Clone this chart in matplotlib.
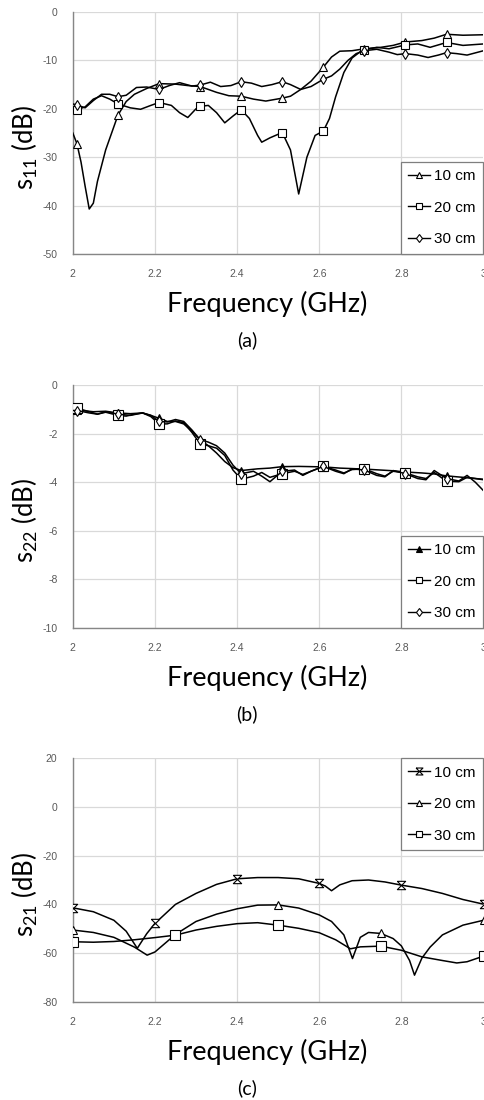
import numpy as np
import matplotlib
matplotlib.use("Agg")
import matplotlib.pyplot as plt
from matplotlib.lines import Line2D

plt.rcParams["axes.unicode_minus"] = False

# ---------------- (a) S11 ----------------
s11_10_f = [2.00, 2.01, 2.02, 2.03, 2.04, 2.05, 2.06, 2.08, 2.11, 2.13, 2.15, 2.18, 2.21,
            2.25, 2.28, 2.31, 2.35, 2.38, 2.41, 2.44, 2.47, 2.51, 2.53, 2.555, 2.58, 2.61,
            2.63, 2.65, 2.68, 2.71, 2.75, 2.78, 2.81, 2.85, 2.88, 2.91, 2.95, 3.00]
s11_10_db = [-25.0, -27.2, -31.0, -36.0, -40.7, -39.5, -35.0, -28.5, -21.3, -18.5, -17.0, -15.8, -14.8,
             -14.9, -15.2, -15.4, -16.6, -17.3, -17.4, -18.0, -18.4, -17.8, -17.4, -16.0, -14.3, -11.4,
             -9.3, -8.1, -8.0, -7.6, -7.3, -6.9, -6.2, -5.9, -5.4, -4.6, -4.8, -4.7]

s11_20_f = [2.00, 2.01, 2.03, 2.05, 2.07, 2.09, 2.11, 2.14, 2.165, 2.19, 2.21, 2.24, 2.26, 2.28,
            2.30, 2.31, 2.33, 2.35, 2.37, 2.39, 2.41, 2.43, 2.45, 2.46, 2.48, 2.51, 2.53, 2.55,
            2.57, 2.59, 2.61, 2.625, 2.64, 2.66, 2.68, 2.70, 2.71, 2.74, 2.77, 2.81, 2.84, 2.87,
            2.91, 2.95, 3.00]
s11_20_db = [-19.6, -20.2, -19.6, -18.0, -17.3, -18.0, -19.0, -19.8, -20.1, -19.3, -18.7, -19.3, -20.8, -21.8,
             -20.0, -19.5, -19.3, -20.8, -22.9, -21.5, -20.2, -22.0, -25.5, -26.9, -26.0, -24.9, -28.5, -37.6,
             -30.0, -25.5, -24.6, -22.0, -17.5, -12.5, -9.5, -8.2, -7.8, -7.3, -7.6, -6.8, -6.6, -7.3,
             -6.3, -6.9, -6.6]

s11_30_f = [2.00, 2.01, 2.03, 2.05, 2.07, 2.09, 2.11, 2.13, 2.155, 2.18, 2.21, 2.235, 2.26, 2.29,
            2.31, 2.335, 2.36, 2.385, 2.41, 2.435, 2.46, 2.485, 2.51, 2.53, 2.555, 2.58, 2.61,
            2.63, 2.65, 2.67, 2.69, 2.71, 2.74, 2.77, 2.79, 2.81, 2.84, 2.865, 2.89, 2.91, 2.935,
            2.96, 3.00]
s11_30_db = [-19.0, -19.2, -19.8, -18.3, -17.0, -17.0, -17.5, -17.2, -15.6, -15.5, -16.0, -15.2, -14.6, -15.3,
             -15.1, -14.5, -15.4, -15.2, -14.4, -14.7, -15.4, -15.0, -14.4, -15.0, -16.0, -15.4, -13.9,
             -13.2, -11.8, -10.0, -8.6, -8.0, -7.7, -8.3, -8.8, -8.6, -8.9, -9.4, -8.9, -8.4, -8.6,
             -8.9, -8.0]

s11_marks = [2.01, 2.11, 2.21, 2.31, 2.41, 2.51, 2.61, 2.71, 2.81, 2.91]

# ---------------- (b) S22 ----------------
s22_10_f = [2.00, 2.01, 2.05, 2.08, 2.11, 2.14, 2.17, 2.19, 2.21, 2.23, 2.25, 2.27, 2.29, 2.31,
            2.33, 2.35, 2.37, 2.39, 2.41, 2.45, 2.48, 2.51, 2.55, 2.58, 2.61, 2.65, 2.68, 2.71,
            2.75, 2.78, 2.81, 2.85, 2.88, 2.91, 2.95, 3.00]
s22_10_db = [-1.05, -1.03, -1.10, -1.08, -1.15, -1.18, -1.15, -1.25, -1.37, -1.50, -1.50, -1.60, -1.90, -2.25,
             -2.50, -2.80, -3.15, -3.40, -3.52, -3.45, -3.42, -3.36, -3.35, -3.36, -3.37, -3.42, -3.44, -3.46,
             -3.50, -3.53, -3.58, -3.62, -3.66, -3.74, -3.80, -3.88]

s22_20_f = [2.00, 2.01, 2.04, 2.06, 2.08, 2.11, 2.13, 2.15, 2.17, 2.19, 2.21, 2.23, 2.25, 2.27,
            2.29, 2.31, 2.33, 2.35, 2.37, 2.39, 2.41, 2.44, 2.46, 2.48, 2.51, 2.54, 2.56, 2.58,
            2.61, 2.64, 2.66, 2.68, 2.71, 2.74, 2.76, 2.78, 2.81, 2.84, 2.86, 2.88, 2.91, 2.94,
            2.96, 2.98, 3.00]
s22_20_db = [-1.00, -0.95, -1.10, -1.20, -1.12, -1.25, -1.28, -1.20, -1.15, -1.30, -1.60, -1.60, -1.48, -1.55,
             -1.95, -2.42, -2.50, -2.60, -2.90, -3.50, -3.88, -3.75, -3.60, -3.80, -3.65, -3.55, -3.68, -3.55,
             -3.35, -3.50, -3.62, -3.48, -3.45, -3.65, -3.75, -3.55, -3.62, -3.78, -3.85, -3.60, -3.96, -3.98,
             -3.80, -3.85, -3.90]

s22_30_f = [2.00, 2.01, 2.04, 2.06, 2.08, 2.11, 2.14, 2.17, 2.19, 2.21, 2.23, 2.25, 2.27, 2.29,
            2.31, 2.33, 2.35, 2.37, 2.39, 2.41, 2.44, 2.46, 2.48, 2.51, 2.54, 2.56, 2.58, 2.61,
            2.64, 2.66, 2.68, 2.71, 2.74, 2.76, 2.78, 2.81, 2.84, 2.86, 2.88, 2.91, 2.94, 2.96,
            2.98, 3.00]
s22_30_db = [-1.05, -1.05, -1.15, -1.20, -1.10, -1.20, -1.25, -1.15, -1.25, -1.50, -1.52, -1.42, -1.50, -1.85,
             -2.25, -2.35, -2.50, -2.80, -3.30, -3.65, -3.55, -3.75, -3.98, -3.55, -3.50, -3.72, -3.55, -3.35,
             -3.55, -3.65, -3.45, -3.50, -3.72, -3.78, -3.52, -3.65, -3.85, -3.90, -3.52, -3.85, -3.95, -3.72,
             -4.00, -4.35]

s22_marks = s11_marks

# ---------------- (c) S21 ----------------
s21_10_f = [2.00, 2.05, 2.10, 2.13, 2.157, 2.18, 2.20, 2.25, 2.30, 2.35, 2.40, 2.45, 2.50, 2.55,
            2.60, 2.615, 2.63, 2.65, 2.68, 2.72, 2.76, 2.80, 2.85, 2.90, 2.95, 3.00]
s21_10_db = [-41.4, -43.0, -46.5, -51.0, -58.0, -52.0, -47.8, -40.0, -35.5, -31.8, -29.5, -29.0, -29.0, -29.5,
             -31.4, -32.5, -34.4, -32.0, -30.3, -30.0, -30.8, -32.1, -33.5, -35.5, -38.0, -39.9]

s21_20_f = [2.00, 2.05, 2.10, 2.15, 2.181, 2.20, 2.25, 2.30, 2.35, 2.40, 2.45, 2.50, 2.55, 2.60,
            2.63, 2.66, 2.681, 2.70, 2.72, 2.75, 2.78, 2.80, 2.82, 2.832, 2.85, 2.87, 2.90, 2.95, 3.00]
s21_20_db = [-50.5, -51.5, -53.5, -57.5, -60.8, -59.5, -52.3, -47.0, -44.0, -41.8, -40.3, -40.2, -41.5, -44.3,
             -47.0, -52.5, -62.2, -53.5, -51.5, -51.9, -54.0, -57.0, -63.0, -69.0, -62.0, -57.5, -52.5, -48.5, -46.5]

s21_30_f = [2.00, 2.05, 2.10, 2.15, 2.20, 2.25, 2.30, 2.35, 2.40, 2.45, 2.50, 2.55, 2.60, 2.64,
            2.676, 2.70, 2.75, 2.80, 2.85, 2.90, 2.935, 2.96, 3.00]
s21_30_db = [-55.3, -55.5, -55.2, -54.5, -53.6, -52.6, -50.5, -49.0, -47.9, -47.5, -48.5, -49.8, -51.6, -54.5,
             -58.2, -57.4, -57.1, -58.8, -61.5, -63.0, -64.0, -63.5, -61.2]

s21_10_marks = [2.0, 2.2, 2.4, 2.6, 2.8, 3.0]
s21_2030_marks = [2.0, 2.25, 2.5, 2.75, 3.0]

legend_labels = ["10 cm", "20 cm", "30 cm"]
x_ticks = [2.0, 2.2, 2.4, 2.6, 2.8, 3.0]
x_tick_labels = ["2", "2.2", "2.4", "2.6", "2.8", "3"]

# ---------------- styling ----------------
W, H, DPI = 485, 1100, 100
LABEL_FONT = "Lato"
TICK_FONT = "Liberation Sans"
GRID_C = "#d9d9d9"
AXIS_C = "#868686"
TICK_C = "#595959"
HOURGLASS = [(-1, 1), (1, 1), (-1, -1), (1, -1), (-1, 1)]

fig = plt.figure(figsize=(W / DPI, H / DPI), dpi=DPI)


def px_axes(top, bottom, left=72.8, right=483.5):
    return fig.add_axes([left / W, 1 - bottom / H, (right - left) / W, (bottom - top) / H])


def mark_idx(freqs, marks):
    f = np.asarray(freqs)
    return [int(np.argmin(np.abs(f - m))) for m in marks]


def style_axes(ax, yticks):
    ax.set_xlim(2, 3)
    ax.set_ylim(yticks[0], yticks[-1])
    ax.set_xticks(x_ticks)
    ax.set_xticklabels(x_tick_labels)
    ax.set_yticks(yticks)
    ax.set_yticklabels([f"{v:g}" for v in yticks])
    ax.grid(True, color=GRID_C, linewidth=0.9)
    ax.set_axisbelow(True)
    for side in ("top", "right"):
        ax.spines[side].set_visible(False)
    for side in ("left", "bottom"):
        ax.spines[side].set_color(AXIS_C)
        ax.spines[side].set_linewidth(1.0)
    ax.tick_params(length=0, labelsize=7.5, labelcolor=TICK_C)
    ax.tick_params(axis="y", pad=11)
    ax.tick_params(axis="x", pad=11)
    for lab in ax.get_xticklabels() + ax.get_yticklabels():
        lab.set_fontfamily(TICK_FONT)


def plot_series(ax, f, db, marks, marker, ms, mfc="white"):
    ax.plot(f, db, color="black", linewidth=1.1, marker=marker, markersize=ms,
            markerfacecolor=mfc, markeredgecolor="black", markeredgewidth=0.8,
            markevery=mark_idx(f, marks), zorder=3)


def add_legend(ax, specs, loc, anchor):
    handles = [Line2D([], [], color="black", linewidth=1.0, marker=m, markersize=s,
                      markerfacecolor=fc, markeredgecolor="black", markeredgewidth=0.8)
               for m, s, fc in specs]
    leg = ax.legend(handles, legend_labels, loc=loc, bbox_to_anchor=anchor,
                    prop={"family": TICK_FONT, "size": 11}, frameon=True, fancybox=False,
                    framealpha=1, edgecolor="#7f7f7f", handlelength=1.4, handletextpad=0.3,
                    labelspacing=1.15, borderpad=0.5, borderaxespad=0.0)
    leg.get_frame().set_linewidth(0.9)
    leg.set_zorder(5)


def add_labels(ax_top, ax_bottom, ylabel, caption):
    yc = (ax_top + ax_bottom) / 2 + 14
    fig.text(25 / W, 1 - yc / H, ylabel, rotation=90, ha="center", va="center",
             fontsize=18.5, family=LABEL_FONT)
    fig.text(267 / W, 1 - (ax_bottom + 50) / H, "Frequency (GHz)", ha="center", va="center",
             fontsize=19.5, family=LABEL_FONT)
    fig.text(247 / W, 1 - (ax_bottom + 86) / H, caption, ha="center", va="center",
             fontsize=14, family=LABEL_FONT)


# (a)
ax_a = px_axes(12, 254)
plot_series(ax_a, s11_10_f, s11_10_db, s11_marks, "^", 6)
plot_series(ax_a, s11_20_f, s11_20_db, s11_marks, "s", 6)
plot_series(ax_a, s11_30_f, s11_30_db, s11_marks, "d", 5.5)
style_axes(ax_a, [-50, -40, -30, -20, -10, 0])
add_legend(ax_a, [("^", 5, "white"), ("s", 5, "white"), ("d", 4.5, "white")],
           "lower right", (1.0, 0.0))
add_labels(12, 254, r"$\mathregular{s_{11}}$ (dB)", "(a)")

# (b)
ax_b = px_axes(385, 628)
plot_series(ax_b, s22_10_f, s22_10_db, s22_marks, "^", 6, mfc="black")
plot_series(ax_b, s22_20_f, s22_20_db, s22_marks, "s", 6.5)
plot_series(ax_b, s22_30_f, s22_30_db, s22_marks, "d", 5.5)
style_axes(ax_b, [-10, -8, -6, -4, -2, 0])
add_legend(ax_b, [("^", 5, "black"), ("s", 5, "white"), ("d", 4.5, "white")],
           "lower right", (1.0, 0.0))
add_labels(385, 628, r"$\mathregular{s_{22}}$ (dB)", "(b)")

# (c)
ax_c = px_axes(758, 1002)
plot_series(ax_c, s21_10_f, s21_10_db, s21_10_marks, HOURGLASS, 6)
plot_series(ax_c, s21_20_f, s21_20_db, s21_2030_marks, "^", 6)
plot_series(ax_c, s21_30_f, s21_30_db, s21_2030_marks, "s", 6.5)
style_axes(ax_c, [-80, -60, -40, -20, 0, 20])
add_legend(ax_c, [(HOURGLASS, 5, "white"), ("^", 5, "white"), ("s", 5, "white")],
           "upper right", (1.0, 1.0))
add_labels(758, 1002, r"$\mathregular{s_{21}}$ (dB)", "(c)")

fig.savefig("out.png", dpi=DPI)
